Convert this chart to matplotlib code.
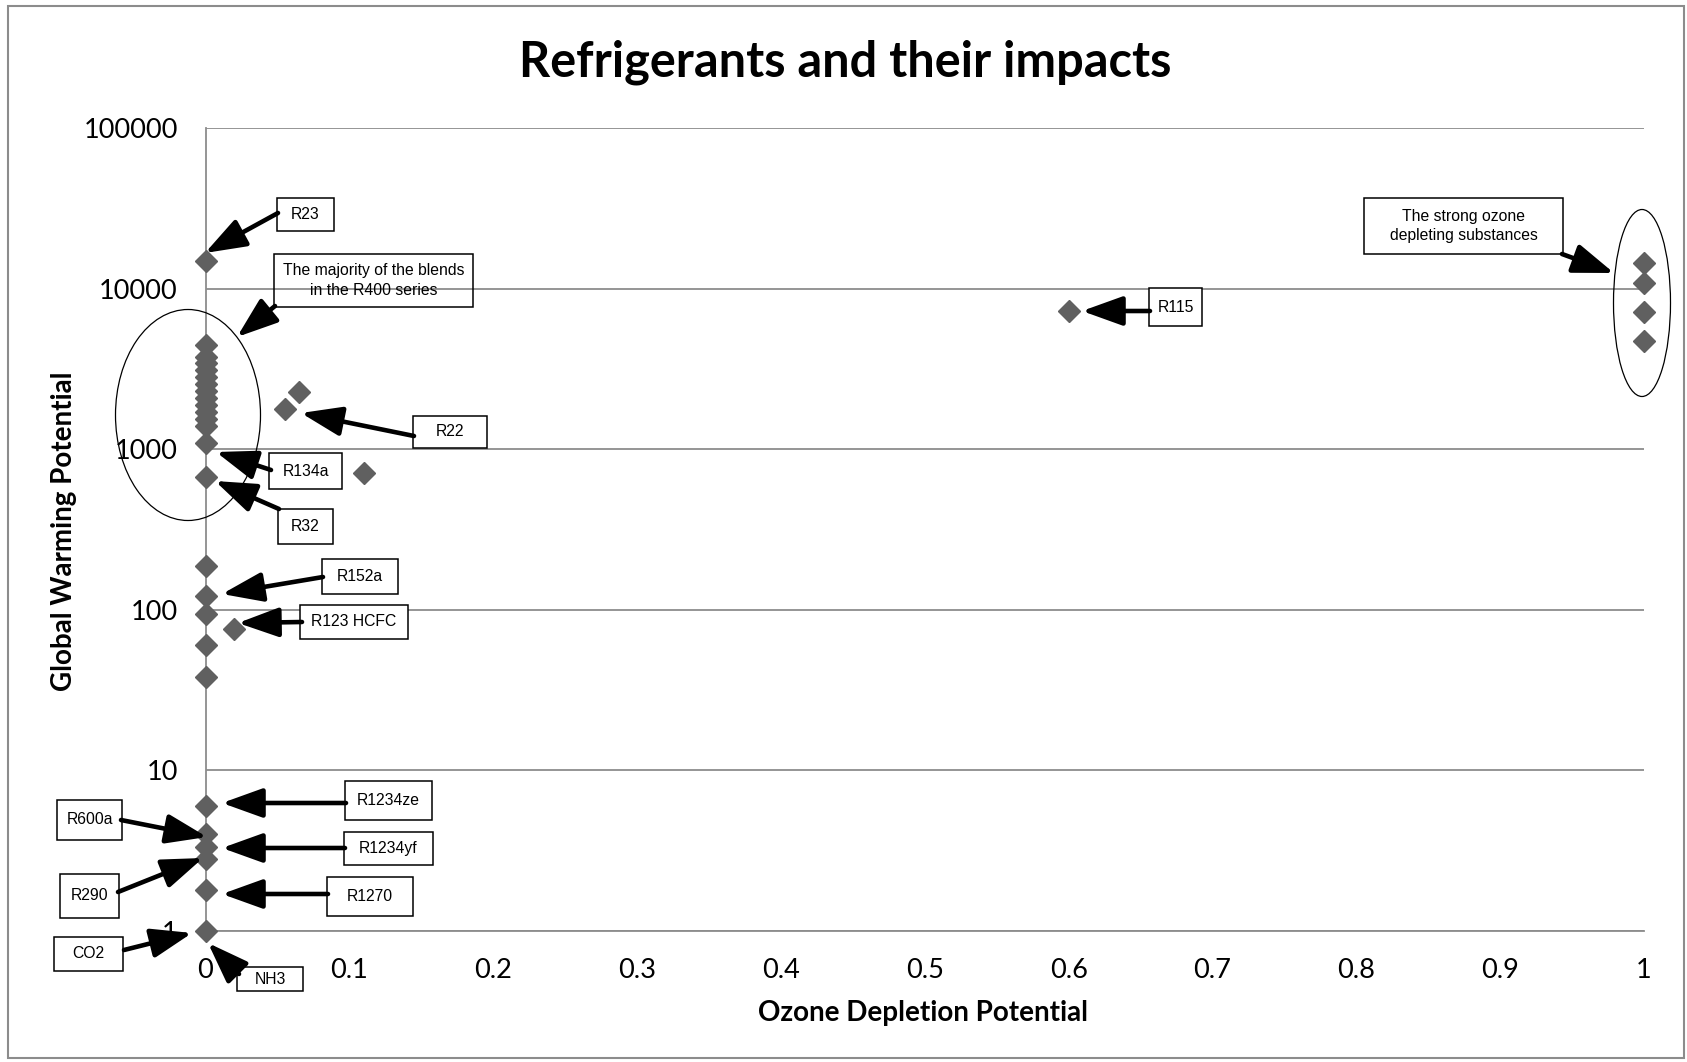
import matplotlib
matplotlib.use("Agg")
import matplotlib.pyplot as plt
from matplotlib.patches import Rectangle, Ellipse, FancyArrowPatch
from matplotlib.ticker import NullLocator

# ---------------- data ----------------
# refrigerants sitting on the ODP = 0 axis (GWP read off the log scale)
odpZero = [0] * 25
gwpZero = [14800, 4460, 3750, 3440, 3120, 2820, 2550, 2310, 2090, 1890, 1710,
           1540, 1390, 1100, 675, 188, 122, 94, 60, 38, 6, 4, 3.3, 2.8, 1.8]
# CO2 sits at GWP 1
odpCO2 = [0]
gwpCO2 = [1]
# ozone depleting ones
odpOther = [0.055, 0.065, 0.11, 0.02, 0.6, 1, 1, 1, 1]
gwpOther = [1780, 2280, 715, 76, 7260, 14400, 10900, 7140, 4750]

xTicks = [0, 0.1, 0.2, 0.3, 0.4, 0.5, 0.6, 0.7, 0.8, 0.9, 1]
xTickLabels = ["0", "0.1", "0.2", "0.3", "0.4", "0.5", "0.6", "0.7", "0.8", "0.9", "1"]
yTicks = [1, 10, 100, 1000, 10000, 100000]
yTickLabels = ["1", "10", "100", "1000", "10000", "100000"]

# annotation boxes: text, box (left, top, right, bottom) in px, arrow tail, arrow tip, filled
labels = [
    ("R23", (277, 198, 334, 231), (278, 213), (205, 253), True),
    ("The majority of the blends\nin the R400 series", (274, 254, 473, 307), (275, 306), (237, 337), False),
    ("R22", (413, 416, 487, 448), (414, 436), (301, 413), True),
    ("R134a", (269, 453, 342, 489), (271, 470), (216, 452), True),
    ("R32", (278, 509, 333, 544), (279, 509), (215, 481), True),
    ("R152a", (322, 559, 398, 594), (323, 577), (222, 594), True),
    ("R123 HCFC", (300, 605, 408, 639), (302, 622), (238, 623), True),
    ("R1234ze", (345, 781, 432, 820), (346, 803), (222, 803), True),
    ("R600a", (57, 800, 122, 840), (121, 820), (207, 837), True),
    ("R1234yf", (344, 832, 433, 865), (345, 848), (222, 848), True),
    ("R290", (60, 874, 119, 918), (118, 892), (203, 858), True),
    ("R1270", (327, 877, 413, 916), (328, 894), (222, 894), True),
    ("CO2", (54, 937, 123, 971), (124, 950), (192, 933), True),
    ("NH3", (237, 967, 303, 991), (239, 974), (208, 943), True),
    ("R115", (1149, 288, 1202, 326), (1150, 311), (1082, 311), True),
    ("The strong ozone\ndepleting substances", (1364, 198, 1563, 254), (1562, 254), (1614, 273), True),
]

W, H = 1687, 1062
def px(x, y):
    return (x / W, 1 - y / H)

tickFont = "Lato"
boxFont = "Liberation Sans"
gridColor = "#8c8c8c"
markerColor = "#606060"

fig = plt.figure(figsize=(W / 100, H / 100), dpi=100)

# outer chart border
fig.patches.append(Rectangle(px(8, 1058), (1684 - 8) / W, (1058 - 6) / H,
                             transform=fig.transFigure, fill=False,
                             edgecolor="#8c8c8c", lw=1.5))

ax = fig.add_axes([205.5 / W, 1 - 930.7 / H, (1644 - 205.5) / W, (930.7 - 128.2) / H])
ax.set_yscale("log")
ax.set_xlim(0, 1)
ax.set_ylim(1, 100000)
ax.set_xticks(xTicks)
ax.set_xticklabels(xTickLabels, fontfamily=tickFont, fontsize=19.5)
ax.set_yticks(yTicks)
ax.set_yticklabels(yTickLabels, fontfamily=tickFont, fontsize=19.5)
ax.yaxis.set_minor_locator(NullLocator())
ax.tick_params(length=0, pad=20)
ax.grid(axis="y", color=gridColor, lw=1.3)
ax.set_axisbelow(True)
for side in ["top", "right"]:
    ax.spines[side].set_visible(False)
for side in ["left", "bottom"]:
    ax.spines[side].set_color(gridColor)
    ax.spines[side].set_linewidth(1.3)

ax.plot(odpZero, gwpZero, "D", ms=11.5, color=markerColor, clip_on=False, zorder=3)
ax.plot(odpCO2, gwpCO2, "D", ms=11.5, color=markerColor, clip_on=False, zorder=3)
ax.plot(odpOther, gwpOther, "D", ms=11.5, color=markerColor, clip_on=False, zorder=3)

# titles
fig.text(*px(845, 62), "Refrigerants and their impacts", ha="center", va="center",
         fontfamily=tickFont, fontweight="bold", fontsize=35)
fig.text(*px(64, 531), "Global Warming Potential", ha="center", va="center",
         rotation=90, fontfamily=tickFont, fontweight="bold", fontsize=20)
fig.text(*px(923, 1013), "Ozone Depletion Potential", ha="center", va="center",
         fontfamily=tickFont, fontweight="bold", fontsize=20)

# ellipses round the groups
fig.patches.append(Ellipse(px(188, 415), 145 / W, 211 / H, transform=fig.transFigure,
                           fill=False, edgecolor="black", lw=0.9, zorder=4))
fig.patches.append(Ellipse(px(1642, 303), 57 / W, 187 / H, transform=fig.transFigure,
                           fill=False, edgecolor="black", lw=0.9, zorder=4))

# label boxes with arrows
for text, box, tail, tip, filled in labels:
    l, t, r, b = box
    fig.patches.append(Rectangle(px(l, b), (r - l) / W, (b - t) / H, transform=fig.transFigure,
                                 facecolor="white" if filled else "none",
                                 edgecolor="black", lw=1.1, zorder=5))
    fig.text(*px((l + r) / 2, (t + b) / 2), text, ha="center", va="center",
             fontfamily=boxFont, fontsize=11.3, linespacing=1.35, zorder=6)
    arrow = FancyArrowPatch(px(*tail), px(*tip), transform=fig.transFigure,
                            arrowstyle="-|>,head_length=1.25,head_width=0.45",
                            mutation_scale=20, color="black", lw=3.3,
                            capstyle="round", shrinkA=0, shrinkB=0, zorder=7)
    fig.patches.append(arrow)

plt.savefig("out.png", dpi=100)
